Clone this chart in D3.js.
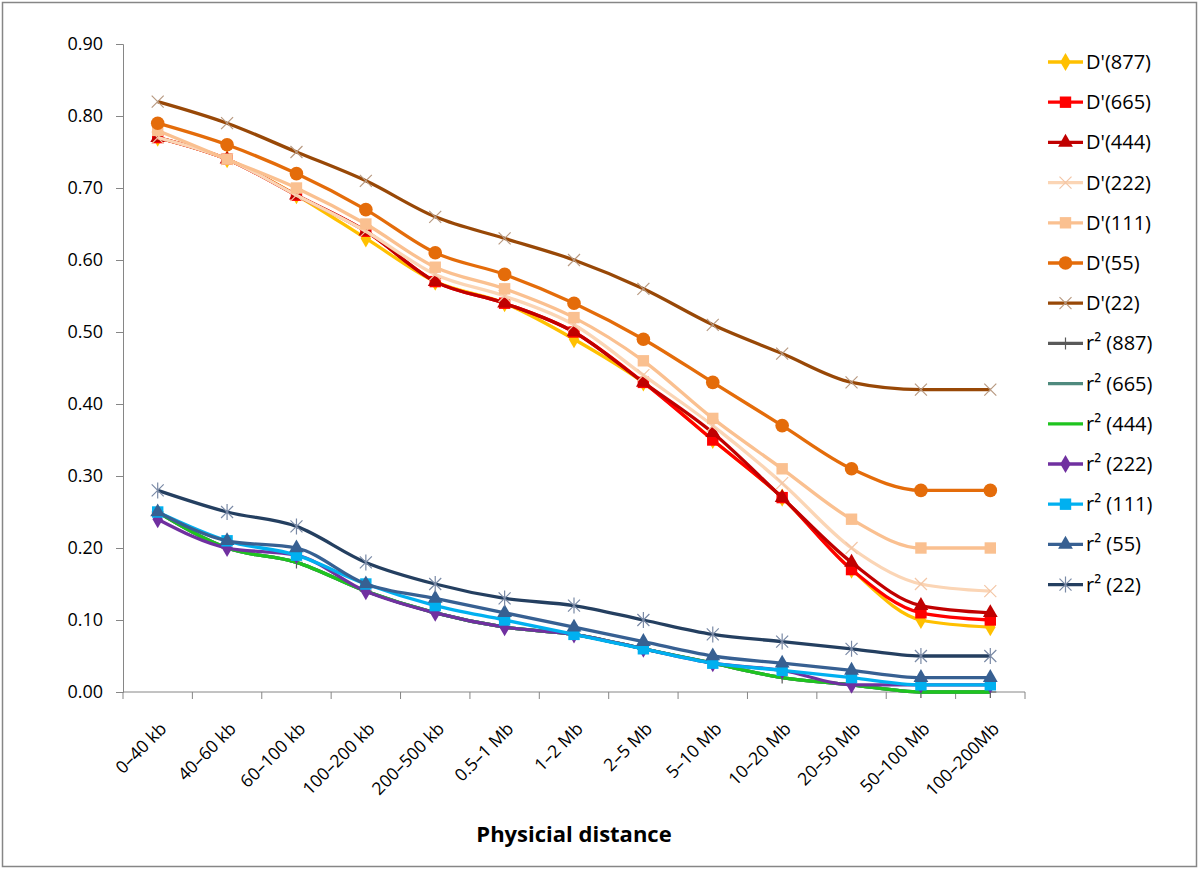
<!DOCTYPE html>
<html>
<head>
<meta charset="utf-8">
<script src="https://cdn.jsdelivr.net/npm/d3@7"></script>
<style>
  body { margin: 0; background: #fff; }
  text { font-family: "Open Sans", "Noto Sans", sans-serif; fill: #000; }
</style>
</head>
<body>
<svg id="chart" width="1200" height="870"></svg>
<script>
const categories = ["0–40 kb","40–60 kb","60–100 kb","100–200 kb","200–500 kb","0.5–1 Mb","1–2 Mb","2–5 Mb","5–10 Mb","10–20 Mb","20–50 Mb","50–100 Mb","100–200Mb"];
const yTicks = [0,0.1,0.2,0.3,0.4,0.5,0.6,0.7,0.8,0.9];
const seriesNames = ["D'(877)","D'(665)","D'(444)","D'(222)","D'(111)","D'(55)","D'(22)","r² (887)","r² (665)","r² (444)","r² (222)","r² (111)","r² (55)","r² (22)"];
const dPrime877 = [0.77,0.74,0.69,0.63,0.57,0.54,0.49,0.43,0.35,0.27,0.17,0.10,0.09];
const dPrime665 = [0.77,0.74,0.69,0.64,0.57,0.54,0.50,0.43,0.35,0.27,0.17,0.11,0.10];
const dPrime444 = [0.77,0.74,0.69,0.64,0.57,0.54,0.50,0.43,0.36,0.27,0.18,0.12,0.11];
const dPrime222 = [0.77,0.74,0.69,0.64,0.58,0.55,0.51,0.44,0.37,0.29,0.20,0.15,0.14];
const dPrime111 = [0.78,0.74,0.70,0.65,0.59,0.56,0.52,0.46,0.38,0.31,0.24,0.20,0.20];
const dPrime55  = [0.79,0.76,0.72,0.67,0.61,0.58,0.54,0.49,0.43,0.37,0.31,0.28,0.28];
const dPrime22  = [0.82,0.79,0.75,0.71,0.66,0.63,0.60,0.56,0.51,0.47,0.43,0.42,0.42];
const r2_887 = [0.25,0.20,0.18,0.14,0.11,0.09,0.08,0.06,0.04,0.02,0.01,0.00,0.00];
const r2_665 = [0.25,0.20,0.18,0.14,0.11,0.09,0.08,0.06,0.04,0.02,0.01,0.00,0.00];
const r2_444 = [0.25,0.20,0.18,0.14,0.11,0.09,0.08,0.06,0.04,0.02,0.01,0.00,0.00];
const r2_222 = [0.24,0.20,0.19,0.14,0.11,0.09,0.08,0.06,0.04,0.03,0.01,0.01,0.01];
const r2_111 = [0.25,0.21,0.19,0.15,0.12,0.10,0.08,0.06,0.04,0.03,0.02,0.01,0.01];
const r2_55  = [0.25,0.21,0.20,0.15,0.13,0.11,0.09,0.07,0.05,0.04,0.03,0.02,0.02];
const r2_22  = [0.28,0.25,0.23,0.18,0.15,0.13,0.12,0.10,0.08,0.07,0.06,0.05,0.05];
const xTitle = "Physicial distance";

const seriesValues = [dPrime877,dPrime665,dPrime444,dPrime222,dPrime111,dPrime55,dPrime22,r2_887,r2_665,r2_444,r2_222,r2_111,r2_55,r2_22];
const styles = [
  {color:"#FFC000", marker:"diamond"},
  {color:"#FF0000", marker:"square"},
  {color:"#C00000", marker:"triangle"},
  {color:"#FBD5B5", marker:"x", mcolor:"#F3C6A6"},
  {color:"#FAC090", marker:"square"},
  {color:"#E46C0A", marker:"circle"},
  {color:"#984807", marker:"x", mcolor:"#B89A82"},
  {color:"#595959", marker:"plus"},
  {color:"#4F8A7E", marker:"none"},
  {color:"#1FC41F", marker:"none"},
  {color:"#7030A0", marker:"diamond"},
  {color:"#00B0F0", marker:"square"},
  {color:"#376092", marker:"triangle"},
  {color:"#243F60", marker:"star", mcolor:"#7A8AA6"}
];

const svg = d3.select("#chart");
svg.append("rect").attr("x",2.5).attr("y",2.5).attr("width",1194).attr("height",864)
  .attr("fill","#fff").attr("stroke","#868686").attr("stroke-width",1.5);

const pLeft = 123, pRight = 1025, pTop = 44, pBottom = 692;
const x = d3.scaleBand().domain(categories).range([pLeft,pRight]);
const y = d3.scaleLinear().domain([0,0.9]).range([pBottom,pTop]);

const yAxis = svg.append("g").attr("transform",`translate(${pLeft},0)`)
  .call(d3.axisLeft(y).tickValues(yTicks).tickFormat(d3.format(".2f")).tickSize(7).tickPadding(13));
yAxis.selectAll("path,line").attr("stroke","#868686");
yAxis.selectAll("text").attr("font-size",18).attr("font-family","Open Sans").attr("fill","#000");

const xAxis = svg.append("g").attr("transform",`translate(0,${pBottom})`);
xAxis.append("line").attr("x1",pLeft).attr("x2",pRight).attr("stroke","#868686");
const bounds = categories.map(c => x(c)).concat([pRight]);
xAxis.selectAll("line.tk").data(bounds).join("line").attr("class","tk")
  .attr("x1",d=>d).attr("x2",d=>d).attr("y1",0).attr("y2",7).attr("stroke","#868686");
xAxis.selectAll("text.lbl").data(categories).join("text").attr("class","lbl")
  .attr("transform", d => `translate(${x(d)+x.bandwidth()/2+10},${38}) rotate(-45)`)
  .attr("text-anchor","end").attr("font-size",17.5).text(d=>d);

svg.append("text").attr("x",574).attr("y",842).attr("text-anchor","middle")
  .attr("font-size",22).attr("font-weight","bold").text(xTitle);

function markerPath(type){
  switch(type){
    case "diamond": return d3.symbol(d3.symbolDiamond, 95)();
    case "square": return d3.symbol(d3.symbolSquare, 130)();
    case "triangle": return d3.symbol(d3.symbolTriangle, 95)();
    case "circle": return d3.symbol(d3.symbolCircle, 145)();
    case "x": return "M-6,-6L6,6M-6,6L6,-6";
    case "plus": return "M-6,0L6,0M0,-6L0,6";
    case "star": return "M-6,-6L6,6M-6,6L6,-6M0,-8L0,8";
  }
  return null;
}
const strokeMarkers = new Set(["x","plus","star"]);

const line = d3.line().x((d,i)=>x(categories[i])+x.bandwidth()/2).y(d=>y(d)).curve(d3.curveMonotoneX);
const plot = svg.append("g");
seriesValues.forEach((vals, si) => {
  const st = styles[si];
  const g = plot.append("g");
  g.append("path").attr("d", line(vals)).attr("fill","none").attr("stroke",st.color)
    .attr("stroke-width",3.3).attr("stroke-linejoin","round");
  const mp = markerPath(st.marker);
  if (mp) {
    g.selectAll("path.m").data(vals).join("path").attr("class","m")
      .attr("transform",(d,i)=>`translate(${x(categories[i])+x.bandwidth()/2},${y(d)})`)
      .attr("d", mp)
      .attr("fill", strokeMarkers.has(st.marker) ? "none" : st.color)
      .attr("stroke", strokeMarkers.has(st.marker) ? (st.mcolor||st.color) : "none")
      .attr("stroke-width",1.2);
  }
});

const legend = svg.append("g");
seriesNames.forEach((name, si) => {
  const st = styles[si];
  const ly = 62 + si*40.2;
  const g = legend.append("g").attr("transform",`translate(0,${ly})`);
  g.append("line").attr("x1",1048).attr("x2",1083).attr("y1",0).attr("y2",0)
    .attr("stroke",st.color).attr("stroke-width",3.3);
  const mp = markerPath(st.marker);
  if (mp) {
    g.append("path").attr("transform","translate(1065.5,0)").attr("d",mp)
      .attr("fill", strokeMarkers.has(st.marker) ? "none" : st.color)
      .attr("stroke", strokeMarkers.has(st.marker) ? (st.mcolor||st.color) : "none")
      .attr("stroke-width",1.2);
  }
  g.append("text").attr("x",1086).attr("y",7).attr("font-size",20).text(name);
});
</script>
</body>
</html>
